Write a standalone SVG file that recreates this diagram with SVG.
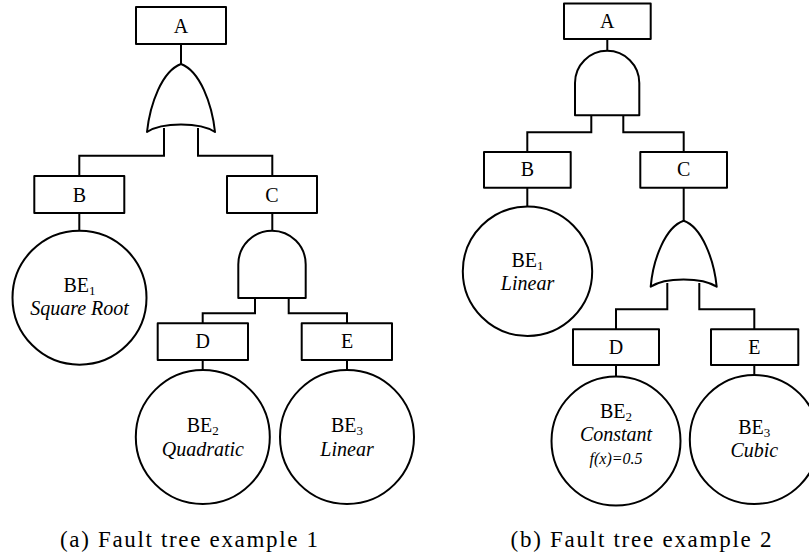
<svg xmlns="http://www.w3.org/2000/svg" width="809" height="557" viewBox="0 0 809 557">
<rect width="809" height="557" fill="#fff"/>
<g id="connectors" fill="none" stroke="#000" stroke-width="2">
<path d="M181,44V64 M164,128V155.7H79.3V176 M198,128V155.7H272.3V176 M79.3,213V231 M272.3,213V231 M255,297V313.3H202.7V323.3 M288.7,297V313.3H347V323.3 M202.7,360V370 M347,360V370"/>
<path d="M607.3,39V51 M591.3,115V132.3H527.3V152 M623.3,115V132.3H683.7V152 M527.3,187.7V206.7 M683.7,187.7V221 M667.3,283V309.3H616V329.3 M699.3,283V309.3H754.3V329.3 M616,365V376.7 M754.3,365V375"/>
</g>
<g id="shapes" fill="#fff" stroke="#000" stroke-width="2" stroke-linejoin="round">
<rect id="a-A-box" x="136" y="7" width="90" height="37"/>
<path id="a-or" d="M181,64 C200,71 212,104 215,132 C200,122 162,122 147,132 C150,104 162,71 181,64 Z"/>
<rect id="a-B-box" x="34.3" y="176" width="90" height="37"/>
<rect id="a-C-box" x="227" y="176" width="90" height="37"/>
<circle id="a-BE1-c" cx="79.5" cy="297.7" r="67"/>
<path id="a-and" d="M238.3,298 V264.4 A33.7,33.7 0 0 1 305.7,264.4 V298 Z"/>
<rect id="a-D-box" x="157.7" y="323.3" width="90.3" height="36.7"/>
<rect id="a-E-box" x="301.7" y="323.3" width="90.3" height="36.7"/>
<circle id="a-BE2-c" cx="202.8" cy="437" r="67"/>
<circle id="a-BE3-c" cx="347" cy="437" r="67"/>
<rect id="b-A-box" x="564" y="3.5" width="86.7" height="35.5"/>
<path id="b-and" d="M575,115.3 V82.9 A32.15,32.15 0 0 1 639.3,82.9 V115.3 Z"/>
<rect id="b-B-box" x="484" y="152" width="86.7" height="35.7"/>
<rect id="b-C-box" x="640.3" y="152" width="86.7" height="35.7"/>
<circle id="b-BE1-c" cx="527.5" cy="271.3" r="64.7"/>
<path id="b-or" d="M683.7,220.7 C702,227 714,260 716.7,286.7 C702,277 665,277 650.7,286.7 C653,260 665,227 683.7,220.7 Z"/>
<rect id="b-D-box" x="573" y="329.3" width="86" height="35.7"/>
<rect id="b-E-box" x="711" y="329.3" width="87.3" height="35.7"/>
<circle id="b-BE2-c" cx="616" cy="441" r="64.5"/>
<circle id="b-BE3-c" cx="754.3" cy="439.5" r="64.5"/>
</g>
<g id="labels" font-family="Liberation Serif" font-size="20" text-anchor="middle" fill="#000">
<text id="a-A" x="181" y="32.5">A</text>
<text id="a-B" x="79.3" y="202.3">B</text>
<text id="a-C" x="272" y="202.3">C</text>
<g id="a-BE1"><text x="79.5" y="292.3">BE<tspan font-size="13" dy="3">1</tspan></text><text x="79.5" y="315" font-style="italic">Square Root</text></g>
<text id="a-D" x="202.7" y="348.3">D</text>
<text id="a-E" x="347" y="348.3">E</text>
<g id="a-BE2"><text x="202.8" y="432.3">BE<tspan font-size="13" dy="3">2</tspan></text><text x="202.8" y="455.5" font-style="italic">Quadratic</text></g>
<g id="a-BE3"><text x="347" y="432.3">BE<tspan font-size="13" dy="3">3</tspan></text><text x="347" y="455.5" font-style="italic">Linear</text></g>
<text id="b-A" x="607.3" y="27.7">A</text>
<text id="b-B" x="527.3" y="176">B</text>
<text id="b-C" x="683.7" y="176">C</text>
<g id="b-BE1"><text x="527.5" y="266.7">BE<tspan font-size="13" dy="3">1</tspan></text><text x="527.5" y="289.5" font-style="italic">Linear</text></g>
<text id="b-D" x="616" y="354.3">D</text>
<text id="b-E" x="754.3" y="354.3">E</text>
<g id="b-BE2"><text x="616" y="417.7">BE<tspan font-size="13" dy="3">2</tspan></text><text x="616" y="440.5" font-style="italic">Constant</text><text x="616" y="464" font-style="italic" font-size="16">f(x)=0.5</text></g>
<g id="b-BE3"><text x="754.3" y="434">BE<tspan font-size="13" dy="3">3</tspan></text><text x="754.3" y="457" font-style="italic">Cubic</text></g>
<text id="cap-a" x="189" y="546.7" font-size="23" textLength="258" lengthAdjust="spacing">(a) Fault tree example 1</text>
<text id="cap-b" x="641" y="546.7" font-size="23" textLength="261" lengthAdjust="spacing">(b) Fault tree example 2</text>
</g>
</svg>
